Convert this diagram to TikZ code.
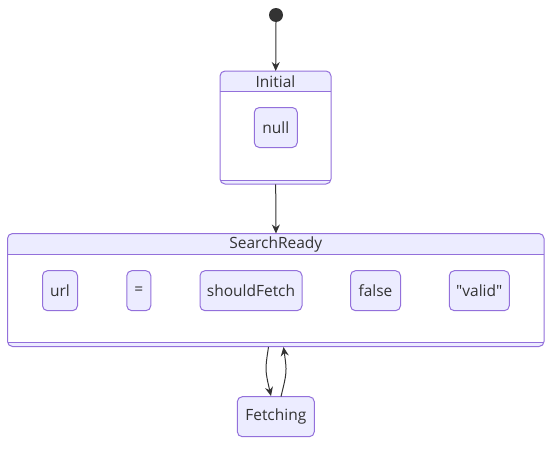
\documentclass[tikz,border=0pt]{standalone}
\usepackage{fontspec}
\setmainfont{Open Sans}[Ligatures=TeXOff]
\usetikzlibrary{arrows.meta}
\definecolor{mfill}{HTML}{ECECFF}
\definecolor{mline}{HTML}{9370DB}
\definecolor{mtext}{HTML}{333333}
\tikzset{
  statebox/.style={draw=mline, fill=mfill, rounded corners=5pt, line width=1pt, inner sep=0pt, text=mtext, font=\fontsize{15.5}{18}\selectfont},
  ttl/.style={text=mtext, font=\fontsize{15.5}{18}\selectfont, inner sep=0pt},
  flow/.style={draw=mtext, line width=1pt, -{Stealth[length=9pt,width=8pt,inset=3pt]}},
}
\begin{document}
\begin{tikzpicture}[x=1pt,y=-1pt]
\useasboundingbox (0,0) rectangle (560,450);
% start
\fill[mtext] (276,15) circle (7);
\node[circle, minimum size=14pt, inner sep=0pt] (startn) at (276,15) {};
% Initial composite
\fill[white, rounded corners=5pt] (220,71) rectangle (331,184);
\begin{scope}
\clip[rounded corners=5pt] (220,71) rectangle (331,184);
\fill[mfill] (220,71) rectangle (331,91);
\fill[mfill] (220,180) rectangle (331,184);
\end{scope}
\draw[mline, line width=1pt] (220,91) -- (331,91) (220,180) -- (331,180);
\draw[mline, line width=1pt, rounded corners=5pt] (220,71) rectangle (331,184);
\node[inner sep=0pt, minimum width=111pt, minimum height=113pt, anchor=north west] (initial) at (220,71) {};
\node[ttl] (initialt) at (275.5,81.5) {Initial};
\node[statebox, minimum width=43pt, minimum height=40pt] (null) at (275.8,127.5) {null};
% SearchReady composite
\fill[white, rounded corners=5pt] (7.5,233.5) rectangle (544,346.5);
\begin{scope}
\clip[rounded corners=5pt] (7.5,233.5) rectangle (544,346.5);
\fill[mfill] (7.5,233.5) rectangle (544,254.5);
\fill[mfill] (7.5,342.5) rectangle (544,346.5);
\end{scope}
\draw[mline, line width=1pt] (7.5,254.5) -- (544,254.5) (7.5,342.5) -- (544,342.5);
\draw[mline, line width=1pt, rounded corners=5pt] (7.5,233.5) rectangle (544,346.5);
\node[inner sep=0pt, minimum width=536.5pt, minimum height=113pt, anchor=north west] (search) at (7.5,233.5) {};
\node[ttl] (searcht) at (275.8,244.5) {SearchReady};
\node[statebox, minimum width=35pt, minimum height=40pt] (url) at (60,290.7) {url};
\node[statebox, minimum width=24pt, minimum height=40pt] (eq) at (138.8,290.7) {=};
\node[statebox, minimum width=102pt, minimum height=40pt] (sf) at (251,290.7) {shouldFetch};
\node[statebox, minimum width=50pt, minimum height=40pt] (false) at (375.5,290.7) {false};
\node[statebox, minimum width=60pt, minimum height=40pt] (valid) at (479.3,290.7) {"valid"};
% Fetching
\node[statebox, minimum width=77pt, minimum height=40pt] (fetch) at (275.8,416.7) {Fetching};
% connectors
\draw[flow] (startn.south) -- (initial.north);
\draw[flow] (initial.south) -- (search.north);
\draw[flow] (268.5,347) .. controls (265,370) .. (271,396);
\draw[flow] (281,396.5) .. controls (287,372) .. (283.5,347);
\end{tikzpicture}
\end{document}
